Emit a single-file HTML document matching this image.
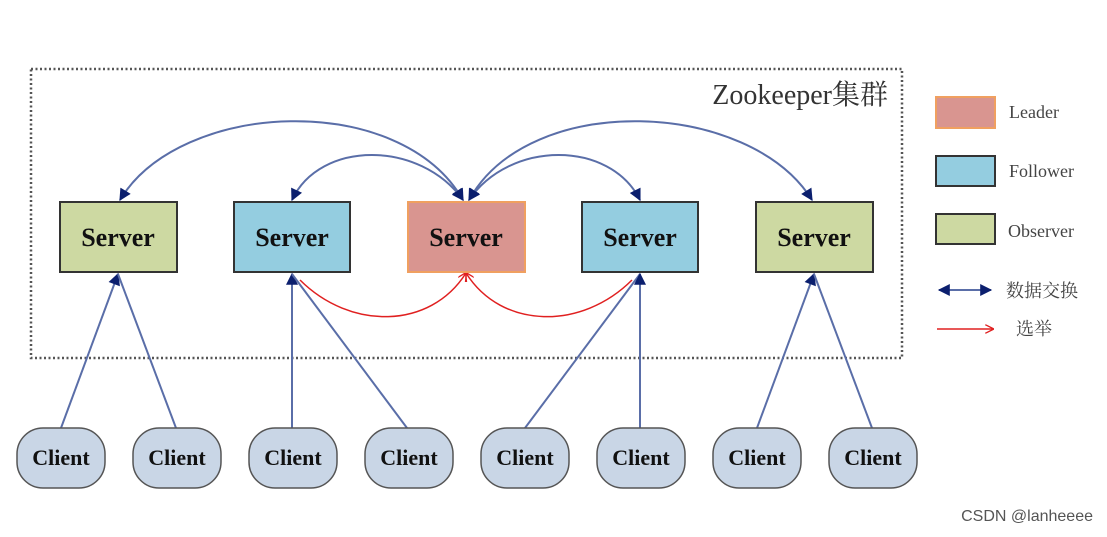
<!DOCTYPE html>
<html><head><meta charset="utf-8"><style>
body{margin:0;background:#fff;width:1107px;height:532px;overflow:hidden}
text{font-family:"Liberation Serif","Noto Serif CJK SC",serif}
</style></head><body>
<svg width="1107" height="532" viewBox="0 0 1107 532" xmlns="http://www.w3.org/2000/svg">
<defs>
<marker id="bb" viewBox="0 0 10 10" refX="9" refY="5" markerWidth="14" markerHeight="12" orient="auto-start-reverse" markerUnits="userSpaceOnUse"><path d="M0,0L10,5L0,10z" fill="#0b1f6e"/></marker>
<marker id="r" viewBox="0 0 10 10" refX="9" refY="5" markerWidth="9" markerHeight="9" orient="auto" markerUnits="userSpaceOnUse"><path d="M0,0L10,5L0,10" fill="none" stroke="#e02020" stroke-width="1.5"/></marker>
</defs>
<rect x="31" y="69" width="871" height="289" fill="none" stroke="#555" stroke-width="2.5" stroke-dasharray="2,2.5"/>
<text x="888" y="104" font-size="28" text-anchor="end" fill="#333">Zookeeper集群</text>
<g fill="none" stroke="#5a6ea8" stroke-width="2">
<path d="M463,200 C400,90 180,100 120,200" marker-start="url(#bb)" marker-end="url(#bb)"/>
<path d="M463,200 C420,140 320,140 292,200" marker-start="url(#bb)" marker-end="url(#bb)"/>
<path d="M469,200 C510,140 610,140 640,200" marker-start="url(#bb)" marker-end="url(#bb)"/>
<path d="M469,200 C530,90 750,100 812,200" marker-start="url(#bb)" marker-end="url(#bb)"/>
<path d="M61,428 L118,274" marker-end="url(#bb)"/>
<path d="M176,428 L118,274"/>
<path d="M292,428 L292,274" marker-end="url(#bb)"/>
<path d="M407,428 L292,274"/>
<path d="M525,428 L640,274"/>
<path d="M640,428 L640,274" marker-end="url(#bb)"/>
<path d="M757,428 L814,274" marker-end="url(#bb)"/>
<path d="M872,428 L814,274"/>
</g>
<g fill="none" stroke="#e02020" stroke-width="1.5">
<path d="M300,280 C350,330 430,330 466,273" marker-end="url(#r)"/>
<path d="M632,280 C582,330 502,330 466,273" marker-end="url(#r)"/>
</g>
<g font-size="26" font-weight="bold" text-anchor="middle" fill="#111">
<rect x="60" y="202" width="117" height="70" fill="#cdd9a2" stroke="#333" stroke-width="2"/><text x="118" y="246">Server</text>
<rect x="234" y="202" width="116" height="70" fill="#94cde0" stroke="#333" stroke-width="2"/><text x="292" y="246">Server</text>
<rect x="408" y="202" width="117" height="70" fill="#d99590" stroke="#f0a060" stroke-width="2"/><text x="466" y="246">Server</text>
<rect x="582" y="202" width="116" height="70" fill="#94cde0" stroke="#333" stroke-width="2"/><text x="640" y="246">Server</text>
<rect x="756" y="202" width="117" height="70" fill="#cdd9a2" stroke="#333" stroke-width="2"/><text x="814" y="246">Server</text>
</g>
<g font-size="22" font-weight="bold" text-anchor="middle" fill="#111">
<g stroke="#555" stroke-width="1.5" fill="#c9d6e6">
<rect x="17" y="428" width="88" height="60" rx="26"/><rect x="133" y="428" width="88" height="60" rx="26"/>
<rect x="249" y="428" width="88" height="60" rx="26"/><rect x="365" y="428" width="88" height="60" rx="26"/>
<rect x="481" y="428" width="88" height="60" rx="26"/><rect x="597" y="428" width="88" height="60" rx="26"/>
<rect x="713" y="428" width="88" height="60" rx="26"/><rect x="829" y="428" width="88" height="60" rx="26"/>
</g>
<text x="61" y="465">Client</text><text x="177" y="465">Client</text><text x="293" y="465">Client</text><text x="409" y="465">Client</text>
<text x="525" y="465">Client</text><text x="641" y="465">Client</text><text x="757" y="465">Client</text><text x="873" y="465">Client</text>
</g>
<rect x="936" y="97" width="59" height="31" fill="#d99590" stroke="#f0a060" stroke-width="2"/>
<rect x="936" y="156" width="59" height="30" fill="#94cde0" stroke="#333" stroke-width="2"/>
<rect x="936" y="214" width="59" height="30" fill="#cdd9a2" stroke="#333" stroke-width="2"/>
<g font-size="18" fill="#444">
<text x="1009" y="118">Leader</text><text x="1009" y="177">Follower</text><text x="1008" y="237">Observer</text>
<text x="1006" y="297">数据交换</text><text x="1016" y="335">选举</text>
</g>
<path d="M939,290 L991,290" stroke="#5a6ea8" stroke-width="2" marker-start="url(#bb)" marker-end="url(#bb)"/>
<path d="M937,329 L993,329" stroke="#e02020" stroke-width="1.5" fill="none" marker-end="url(#r)"/>
<text x="1093" y="521" font-size="16" text-anchor="end" fill="#555" style="font-family:'Liberation Sans',sans-serif">CSDN @lanheeee</text>
</svg>
</body></html>
